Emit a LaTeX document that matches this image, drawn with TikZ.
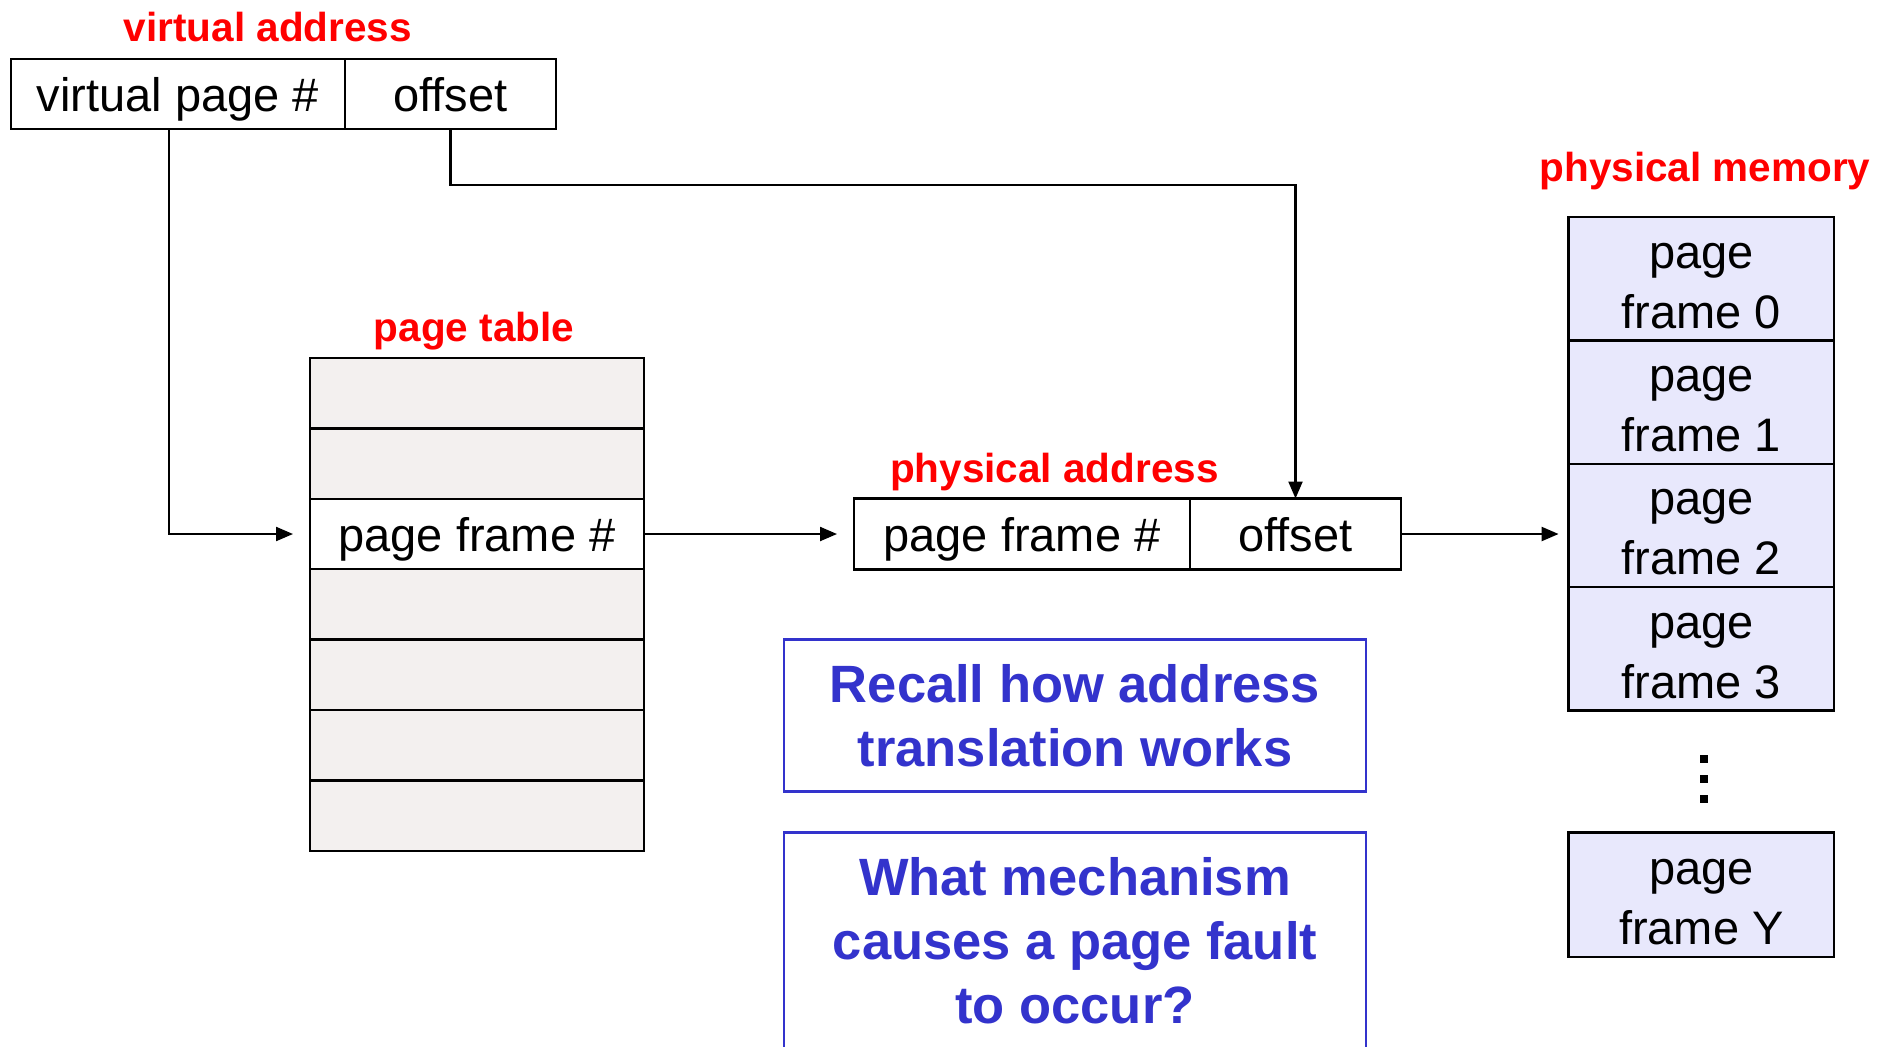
\documentclass[tikz,border=0pt]{standalone}
\usepackage{fontspec}
\setmainfont{Liberation Sans}
\usetikzlibrary{arrows.meta,calc}
\definecolor{redlab}{HTML}{FF0000}
\definecolor{qblue}{HTML}{3333CC}
\definecolor{tgray}{HTML}{F3F0EF}
\definecolor{memfill}{HTML}{E8E8FC}
\begin{document}
\begin{tikzpicture}[x=0.5pt,y=-0.5pt,
  cell/.style={draw=black,line width=1.2pt,inner sep=0pt,outer sep=0pt,minimum height=35pt,text height=17.5pt,text depth=0pt,font=\fontsize{23.5}{28}\selectfont},
  ptrow/.style={cell,fill=tgray,minimum width=167pt,minimum height=35.2pt},
  memtxt/.style={align=center,inner sep=0pt,yshift=-3.5pt,font=\fontsize{23.5}{30}\selectfont},
  memcell/.style={draw=black,line width=1.2pt,fill=memfill,inner sep=0pt,outer sep=0pt,minimum width=132.7pt,minimum height=61.7pt},
  lab/.style={text=redlab,font=\fontsize{20.25}{24}\selectfont\bfseries,inner sep=0pt,text height=15pt,text depth=0pt},
  qbox/.style={draw=qblue,line width=1.4pt,text=qblue,align=center,inner sep=0pt,outer sep=0pt,minimum width=291pt,font=\fontsize{26.25}{32}\selectfont\bfseries},
  arr/.style={line width=1.1pt,-{Triangle[length=8.5pt,width=7pt]}}
]
\useasboundingbox (0,0) rectangle (1892,1046);
\fill[white] (0,0) rectangle (1892,1046);

% virtual address
\node[lab] (lva) at (268,26.5) {virtual address};
\node[cell,minimum width=167pt] (vpn) at (178,94) {virtual page \#};
\node[cell,minimum width=105.5pt] (voff) at (450.5,94) {offset};

% page table
\node[lab] (lpt) at (474,326) {page table};
\node[ptrow] (pt1) at (477,393.2) {};
\node[ptrow] (pt2) at (477,463.6) {};
\node[ptrow,fill=white] (pt3) at (477,534) {page frame \#};
\node[ptrow] (pt4) at (477,604.4) {};
\node[ptrow] (pt5) at (477,674.8) {};
\node[ptrow] (pt6) at (477,745.2) {};
\node[ptrow] (pt7) at (477,815.6) {};

% physical address
\node[lab] (lpa) at (1054.5,467) {physical address};
\node[cell,minimum width=168pt,minimum height=35.5pt] (pfn) at (1022,534) {page frame \#};
\node[cell,minimum width=105.5pt,minimum height=35.5pt] (poff) at (1295.5,534) {offset};

% physical memory
\node[lab] (lpm) at (1705,166.5) {physical memory};
\node[memcell,label={[memtxt]center:page\\frame 0}] (m0) at (1701.3,278.7) {};
\node[memcell,label={[memtxt]center:page\\frame 1}] (m1) at (1701.3,402.1) {};
\node[memcell,label={[memtxt]center:page\\frame 2}] (m2) at (1701.3,525.5) {};
\node[memcell,label={[memtxt]center:page\\frame 3}] (m3) at (1701.3,648.9) {};
\fill (1700,755) rectangle (1708,763);
\fill (1700,775) rectangle (1708,783);
\fill (1700,794.5) rectangle (1708,802.5);
\node[memcell,minimum height=62.25pt,label={[memtxt]center:page\\frame Y}] (mY) at (1701.3,894.7) {};

% question boxes
\node[qbox,minimum height=76pt] (q1) at (1075,715.5) {Recall how address\\translation works};
\node[qbox,minimum height=108.5pt] (q2) at (1075,941) {What mechanism\\causes a page fault\\to occur?};

% connectors
\draw[arr,shorten >=8.5pt] ([xshift=-4.5pt]vpn.south) |- (pt3.west);
\draw[arr] (voff.south) -- ++(0,55.6) -| (poff.north);
\draw[arr,shorten >=8.5pt] (pt3.east) -- (pfn.west);
\draw[arr,shorten >=5pt] (poff.east) -- (poff.east -| m2.west);
\end{tikzpicture}
\end{document}
